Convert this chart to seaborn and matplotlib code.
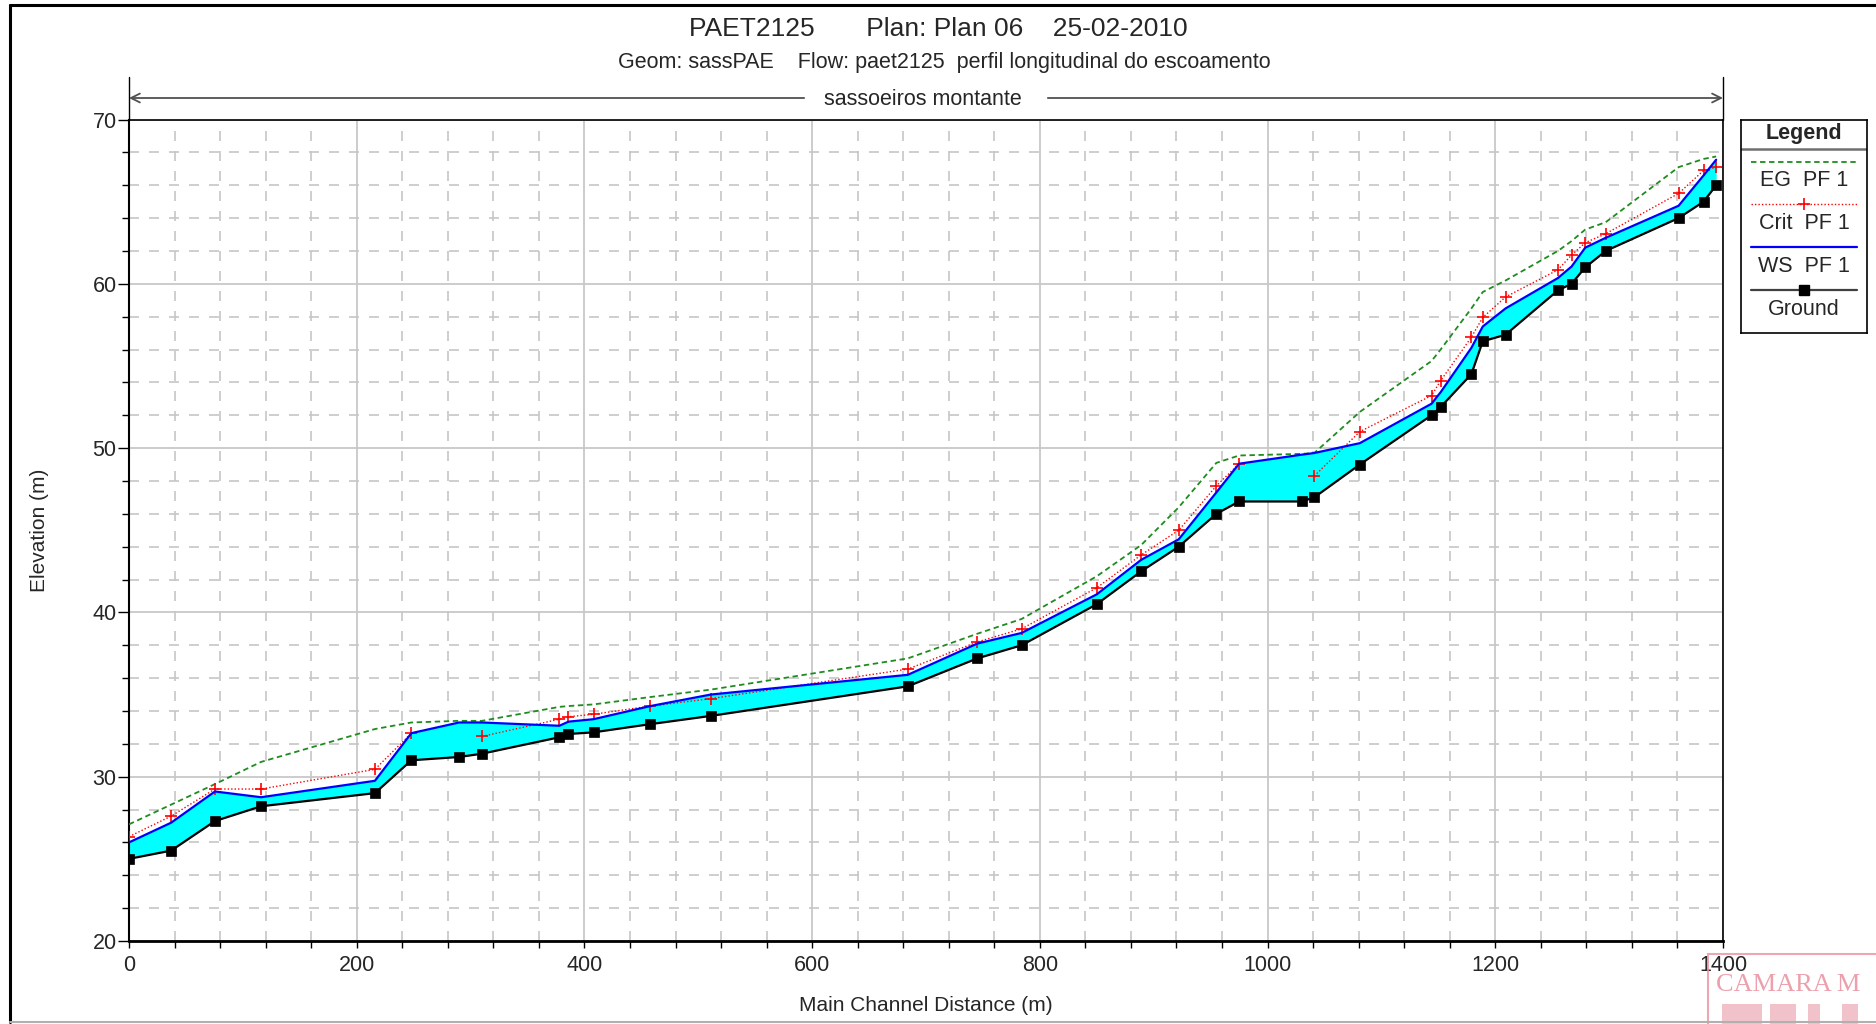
import numpy as np
import pandas as pd
import matplotlib
matplotlib.use('Agg')
import matplotlib.pyplot as plt
import matplotlib.transforms as mtransforms
from matplotlib.lines import Line2D
from matplotlib.patches import Rectangle
import seaborn as sns

# ---------------- data ----------------
station = [0, 37, 75.5, 116, 216, 248, 290, 310, 378, 386, 408, 458, 511, 684, 745, 784,
           850, 889, 922, 955, 975, 1030, 1041, 1081, 1144, 1152, 1179, 1189, 1209, 1255,
           1267, 1279, 1297, 1361, 1383, 1394]
ground = [25.0, 25.5, 27.3, 28.2, 29.0, 31.0, 31.2, 31.4, 32.4, 32.6, 32.7, 33.2, 33.7, 35.5,
          37.2, 38.0, 40.5, 42.5, 44.0, 46.0, 46.75, 46.75, 47.0, 49.0, 52.0, 52.5, 54.5, 56.5,
          56.9, 59.6, 60.0, 61.0, 62.0, 64.0, 65.0, 66.0]
ws = [26.0, 27.2, 29.1, 28.75, 29.75, 32.65, 33.3, 33.3, 33.1, 33.35, 33.5, 34.3, 35.0, 36.2,
      38.1, 38.75, 41.1, 43.2, 44.45, 47.3, 49.05, 49.6, 49.7, 50.3, 52.7, 53.4, 56.1, 57.4,
      58.5, 60.35, 61.05, 62.2, 62.8, 64.75, 66.6, 67.55]
crit = [26.35, 27.6, 29.25, 29.25, 30.45, 32.65, np.nan, 32.45, 33.5, 33.65, 33.8, 34.3, 34.75,
        36.55, 38.2, 39.0, 41.5, 43.5, 45.0, 47.7, 49.05, np.nan, 48.3, 51.0, 53.2, 54.1, 56.75,
        57.95, 59.2, 60.85, 61.75, 62.5, 63.05, 65.5, 66.9, 67.1]
eg = [27.1, 28.3, 29.55, 30.9, 32.9, 33.3, 33.4, 33.4, 34.25, 34.3, 34.4, 34.85, 35.3, 37.2,
      38.7, 39.6, 42.2, 44.1, 46.4, 49.1, 49.55, 49.65, 49.7, 52.2, 55.3, 56.0, 58.5, 59.5,
      60.2, 62.0, 62.6, 63.3, 63.75, 67.1, 67.6, 67.75]

xticks = [0, 200, 400, 600, 800, 1000, 1200, 1400]
yticks = [20, 30, 40, 50, 60, 70]
legend_labels = ['EG  PF 1', 'Crit  PF 1', 'WS  PF 1', 'Ground']
title = 'PAET2125       Plan: Plan 06    25-02-2010'
subtitle = 'Geom: sassPAE    Flow: paet2125  perfil longitudinal do escoamento'
reach = 'sassoeiros montante'
xlabel = 'Main Channel Distance (m)'
ylabel = 'Elevation (m)'

# ---------------- style ----------------
sns.set_style('white')
plt.rcParams['font.family'] = ['Liberation Sans', 'DejaVu Sans']

C_EG = '#1e8c1e'
C_CRIT = '#ff0000'
C_WS = '#0000ff'
C_GR = '#000000'
C_FILL = '#00ffff'

W, H = 1876, 1024
fig = plt.figure(figsize=(W / 100, H / 100), dpi=100)
L, R, T, B = 129, 1723, 119.5, 941
ax = fig.add_axes([L / W, 1 - B / H, (R - L) / W, (B - T) / H])

df = pd.DataFrame(dict(station=station, ground=ground, ws=ws, crit=crit, eg=eg))
dcrit = df[['station', 'crit']].assign(seg=df['crit'].isna().cumsum()).dropna()

ax.fill_between(df['station'], df['ground'], df['ws'], color=C_FILL, lw=0, zorder=2)
sns.lineplot(data=df, x='station', y='eg', ax=ax, color=C_EG, lw=1.3,
             linestyle=(0, (3, 2)), zorder=3)
sns.lineplot(data=dcrit, x='station', y='crit', units='seg', estimator=None, ax=ax,
             color=C_CRIT, lw=1.0, linestyle=(0, (1, 1.5)), marker='+', markersize=8.5,
             markeredgecolor=C_CRIT, markeredgewidth=1.2, zorder=4)
sns.lineplot(data=df, x='station', y='ws', ax=ax, color=C_WS, lw=1.6, zorder=5)
sns.lineplot(data=df, x='station', y='ground', ax=ax, color=C_GR, lw=1.6, marker='s',
             markersize=7, markeredgecolor=C_GR, markeredgewidth=0.5, zorder=6)

ax.set_xlim(0, 1400)
ax.set_ylim(20, 70)
ax.set_xticks(xticks)
ax.set_xticks(np.arange(0, 1401, 40), minor=True)
ax.set_yticks(yticks)
ax.set_yticks(np.arange(20, 71, 2), minor=True)
ax.set_axisbelow(True)
ax.grid(True, which='major', color='#c8c8c8', lw=1.3, ls='-')
ax.grid(True, which='minor', color='#c6c6c6', lw=1.2, ls=(0, (6, 6)))

ax.tick_params(which='both', direction='out', color='black', left=True, bottom=True)
ax.tick_params(axis='y', which='major', length=8, width=1, labelsize=15.5, pad=1)
ax.tick_params(axis='y', which='minor', length=5, width=1)
ax.tick_params(axis='x', which='both', length=5, width=1, labelsize=15.5, pad=5)
for s in ax.spines.values():
    s.set_color('black')
    s.set_linewidth(1.2)
ax.spines['bottom'].set_linewidth(2.0)
ax.spines['left'].set_linewidth(1.5)

ax.set_xlabel(xlabel, fontsize=15)
ax.set_ylabel(ylabel, fontsize=15)
ax.xaxis.set_label_coords(0.5, -0.067)
ax.yaxis.set_label_coords(-0.050, 0.5)

# ---------------- titles ----------------
fig.text(938 / W, 1 - 29.5 / H, title, ha='center', va='center', fontsize=19)
fig.text(944 / W, 1 - 62.5 / H, subtitle, ha='center', va='center', fontsize=15.5)

# ---------------- reach arrow ----------------
trans = mtransforms.blended_transform_factory(ax.transData, ax.transAxes)
yarr = 1 + (T - 98) / (B - T)
ytop = 1 + (T - 77) / (B - T)
aprops = dict(arrowstyle='->', color='#505050', lw=1.3, mutation_scale=16,
              shrinkA=0, shrinkB=0)
ax.annotate('', xy=(0, yarr), xytext=(593, yarr), xycoords=trans, textcoords=trans,
            arrowprops=aprops, annotation_clip=False)
ax.annotate('', xy=(1400, yarr), xytext=(807, yarr), xycoords=trans, textcoords=trans,
            arrowprops=aprops, annotation_clip=False)
ax.text(697, 1 + (T - 100) / (B - T), reach, transform=trans, ha='center', va='center',
        fontsize=15.5)
for xv in (0, 1400):
    ax.plot([xv, xv], [1.0, ytop], transform=trans, color='black', lw=1.0, clip_on=False)

# ---------------- legend box ----------------
lx0, lx1, ly0, ly1 = 1741, 1867, 119.5, 332.5
lax = fig.add_axes([lx0 / W, 1 - ly1 / H, (lx1 - lx0) / W, (ly1 - ly0) / H])
lax.set_xlim(lx0, lx1)
lax.set_ylim(ly1, ly0)
lax.set_xticks([])
lax.set_yticks([])
lax.set_facecolor('white')
for s in lax.spines.values():
    s.set_color('black')
    s.set_linewidth(1.2)
xm = (lx0 + lx1) / 2
lax.text(xm, 133, 'Legend', fontweight='bold', fontsize=15.5, ha='center', va='center')
lax.plot([lx0, lx1], [149, 149], color='#707070', lw=1.8)
sx = [1751, 1857]
lax.plot(sx, [161.7, 161.7], color=C_EG, lw=1.3, ls=(0, (3, 2)))
lax.plot(sx, [204.3, 204.3], color=C_CRIT, lw=1.0, ls=(0, (1, 1.5)))
lax.plot([xm], [204.3], color=C_CRIT, marker='+', markersize=8.5, mew=1.2)
lax.plot(sx, [246.7, 246.7], color=C_WS, lw=1.6)
lax.plot(sx, [290, 290], color='#404040', lw=1.6)
lax.plot([xm], [290], color='black', marker='s', markersize=7)
for yv, lab in zip([181, 223.5, 266, 309.5], legend_labels):
    lax.text(xm, yv, lab, fontsize=15.5, ha='center', va='center')

# ---------------- page frame ----------------
fig.add_artist(Line2D([9.5 / W, 9.5 / W], [1 - 1022 / H, 1 - 4.5 / H],
                      transform=fig.transFigure, color='black', lw=2.2))
fig.add_artist(Line2D([9.5 / W, 1.0], [1 - 4.5 / H, 1 - 4.5 / H],
                      transform=fig.transFigure, color='black', lw=2.2))
fig.add_artist(Line2D([9.5 / W, 1.0], [1 - 1022 / H, 1 - 1022 / H],
                      transform=fig.transFigure, color='#b0b0b0', lw=1.5))

# ---------------- stamp (scan artefact) ----------------
pink = '#e9909f'
fig.add_artist(Rectangle((1708 / W, 1 - 1030 / H), 200 / W, 76 / H, transform=fig.transFigure,
                         fill=False, ec=pink, lw=1.5, alpha=0.8))
fig.text(1716 / W, 1 - 974 / H, 'CAMARA M', fontsize=19, color=pink, alpha=0.85,
         family=['Liberation Serif', 'DejaVu Serif'], ha='left', va='top')
for bx, bw in [(1722, 40), (1770, 26), (1808, 12), (1842, 16)]:
    fig.add_artist(Rectangle((bx / W, 0), bw / W, 20 / H, transform=fig.transFigure,
                             fc=pink, ec='none', alpha=0.55))

fig.savefig('out.png', dpi=100)
